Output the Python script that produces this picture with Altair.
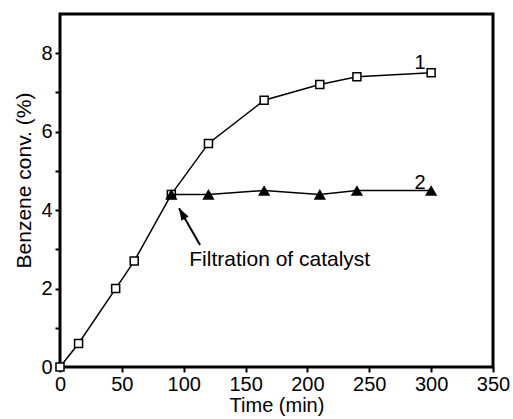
import altair as alt
import pandas as pd

# Series 1 (open squares)
time1 = [0, 15, 45, 60, 90, 120, 165, 210, 240, 300]
conv1 = [0.0, 0.6, 2.0, 2.7, 4.4, 5.7, 6.8, 7.2, 7.4, 7.5]
# Series 2 (filled triangles, after filtration)
time2 = [90, 120, 165, 210, 240, 300]
conv2 = [4.4, 4.4, 4.5, 4.4, 4.5, 4.5]

# Series labels
label_text = ["1", "2"]
label_x = [291, 291]
label_y = [7.75, 4.7]

# Annotation
note_text = ["Filtration of catalyst"]
note_x = [104.5]
note_y = [2.73]
arrow_tail_x = [113.2]
arrow_tail_y = [3.11]
arrow_tip_x = [96.2]
arrow_tip_y = [4.05]

x_ticks = list(range(0, 351, 25))
y_ticks = list(range(0, 9))

FONT = "Liberation Sans"

df1 = pd.DataFrame({"t": time1, "c": conv1})
df2 = pd.DataFrame({"t": time2, "c": conv2})
dfl = pd.DataFrame({"t": label_x, "c": label_y, "txt": label_text})
dfn = pd.DataFrame({"t": note_x, "c": note_y, "txt": note_text})
dfa = pd.DataFrame({"t": arrow_tail_x, "c": arrow_tail_y, "t2": arrow_tip_x, "c2": arrow_tip_y})
dfh = pd.DataFrame({"t": arrow_tip_x, "c": arrow_tip_y})

xs = alt.Scale(domain=[0, 350], nice=False, zero=False)
ys = alt.Scale(domain=[0, 9], nice=False, zero=False)

xaxis = alt.Axis(
    values=x_ticks,
    labelExpr="datum.value % 50 == 0 ? datum.label : ''",
    title="Time (min)",
    grid=False,
    domain=False,
    tickSize=5,
    tickWidth=2,
    tickColor="black",
    labelFontSize=20,
    labelFont=FONT,
    labelColor="black",
    labelPadding=2,
    labelFlush=False,
    labelOverlap=False,
    titleFontSize=20,
    titleFont=FONT,
    titleFontWeight="normal",
    titleColor="black",
    titlePadding=1,
)
yaxis = alt.Axis(
    values=y_ticks,
    labelExpr="datum.value % 2 == 0 ? datum.label : ''",
    title="Benzene conv. (%)",
    grid=False,
    domain=False,
    tickSize=5,
    tickWidth=2,
    tickColor="black",
    labelFontSize=20,
    labelFont=FONT,
    labelColor="black",
    labelPadding=3,
    labelFlush=False,
    labelOverlap=False,
    titleFontSize=21,
    titleFont=FONT,
    titleFontWeight="normal",
    titleColor="black",
    titlePadding=6,
    titleY=166,
)

X = alt.X("t:Q", scale=xs, axis=xaxis)
Y = alt.Y("c:Q", scale=ys, axis=yaxis)

line1 = alt.Chart(df1).mark_line(color="black", strokeWidth=1.5, clip=False).encode(x=X, y=Y)
pts1 = alt.Chart(df1).mark_point(
    shape="square", size=64, filled=True, fill="white", stroke="black", strokeWidth=1.5, opacity=1, clip=False
).encode(x="t:Q", y="c:Q")
line2 = alt.Chart(df2).mark_line(color="black", strokeWidth=1.5).encode(x="t:Q", y="c:Q")
pts2 = alt.Chart(df2).mark_point(
    shape="triangle-up", size=150, filled=True, color="black", opacity=1
).encode(x="t:Q", y="c:Q")

labels = alt.Chart(dfl).mark_text(
    font=FONT, fontSize=20, color="black", align="center", baseline="middle"
).encode(x="t:Q", y="c:Q", text="txt:N")
note = alt.Chart(dfn).mark_text(
    font=FONT, fontSize=21, color="black", align="left", baseline="middle"
).encode(x="t:Q", y="c:Q", text="txt:N")
arrow_line = alt.Chart(dfa).mark_rule(color="black", strokeWidth=2).encode(
    x="t:Q", y="c:Q", x2="t2:Q", y2="c2:Q"
)
arrow_head = alt.Chart(dfh).mark_point(
    shape="M0,0L-0.35,1L0.35,1Z", size=576, filled=True, color="black", opacity=1, angle=330
).encode(x="t:Q", y="c:Q")

chart = (
    alt.layer(line1, pts1, line2, pts2, labels, note, arrow_line, arrow_head)
    .properties(
        width=433,
        height=353,
        autosize=alt.AutoSizeParams(type="none"),
        padding={"left": 60, "top": 14, "right": 20, "bottom": 52},
        background="white",
    )
    .configure_view(stroke="black", strokeWidth=3)
)

chart.save("out.html", embed_options={"renderer": "svg", "actions": False})
